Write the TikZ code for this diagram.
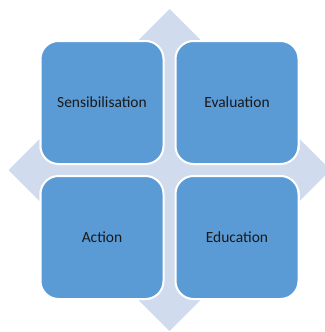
\documentclass[tikz,border=0pt]{standalone}
\usepackage{fontspec}
\setmainfont{Carlito}
\usepackage{tikz}
\definecolor{cellblue}{RGB}{91, 155, 213}
\definecolor{arrowblue}{RGB}{208, 220, 238}
\tikzset{cell/.style = {draw = white, line width = 2pt, fill = cellblue, rounded corners = 18pt, minimum width = 123pt, minimum height = 123pt, inner sep = 0pt, font = \fontsize{15.5}{18}\selectfont, text = black!90}}

\begin{document}
\begin{tikzpicture}[x = 1pt, y = -1pt]
\useasboundingbox (0,0) rectangle (324,332);
\foreach \ang in {0, 90, 180, 270}
  \fill[arrowblue, shift = {(169.5,170)}, rotate = \ang] (-20,0) -- (-20,-130) -- (-31,-130) -- (0,-161) -- (31,-130) -- (20,-130) -- (20,0) -- cycle;
\node[cell] (sens) at (102,102.5) {Sensibilisation};
\node[cell] (eval) at (237,102.5) {Evaluation};
\node[cell] (action) at (102,237.5) {Action};
\node[cell] (educ) at (237,237.5) {Education};
\end{tikzpicture}
\end{document}
